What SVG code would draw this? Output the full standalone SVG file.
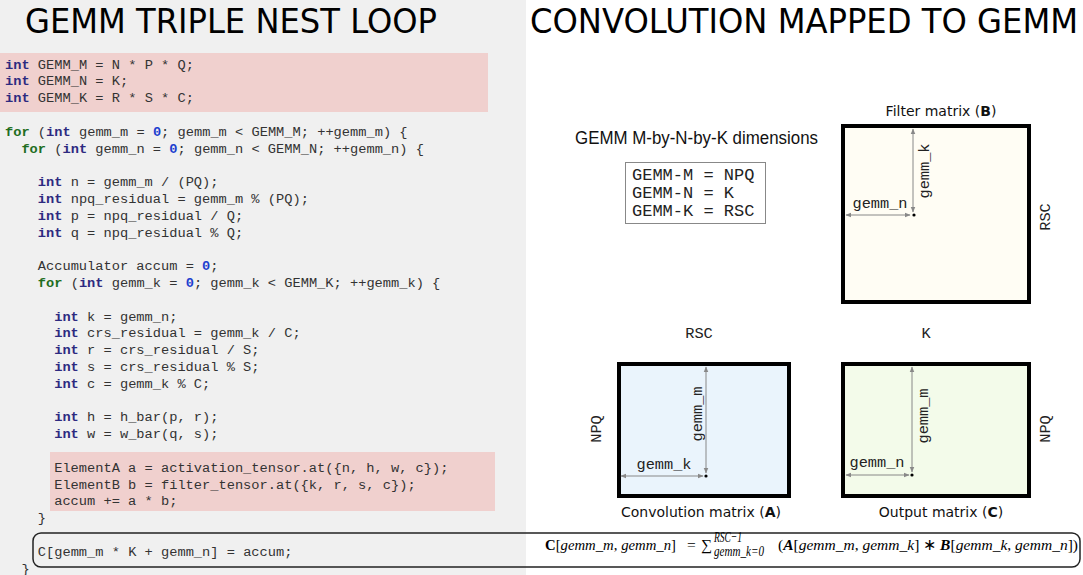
<svg xmlns="http://www.w3.org/2000/svg" width="1083" height="575" viewBox="0 0 1083 575">
<style>
.title{font-family:"DejaVu Sans",Verdana,sans-serif;font-size:34px;fill:#000}
.code{font-family:"Liberation Mono","Courier New",monospace;font-size:13.7px;fill:#333}
.k{fill:#2d2a80;font-weight:bold}
.f{fill:#1f6e1f;font-weight:bold}
.n{fill:#1d3fcf;font-weight:bold}
.hl{fill:#f0d0ce}
.dims{font-family:"Liberation Mono","Courier New",monospace;font-size:17px;fill:#222}
.lbl{font-family:"Liberation Mono","Courier New",monospace;font-size:15.3px;fill:#222}
.cap{font-family:"DejaVu Sans",Verdana,sans-serif;font-size:14px;fill:#111}
.mat{stroke:#000;stroke-width:4}
.arr{stroke:#888;stroke-width:1;fill:none;marker-start:url(#ah);marker-end:url(#ah)}
.math{font-family:"Liberation Serif","Times New Roman",serif;font-size:15.5px;fill:#000}
.it{font-style:italic}
</style>
<defs>
<marker id="ah" viewBox="0 0 10 10" refX="9" refY="5" markerWidth="6" markerHeight="6" orient="auto-start-reverse" markerUnits="userSpaceOnUse">
<path d="M0,1 L10,5 L0,9 z" fill="#888"/>
</marker>
</defs>
<rect x="0" y="0" width="1083" height="575" fill="#fff"/>
<rect x="0" y="0" width="526" height="575" fill="#f0f0f0"/>

<g id="title-left"><text class="title" x="25" y="33" textLength="412" lengthAdjust="spacingAndGlyphs">GEMM TRIPLE NEST LOOP</text></g>
<g id="title-right"><text class="title" x="530" y="33" textLength="548" lengthAdjust="spacingAndGlyphs">CONVOLUTION MAPPED TO GEMM</text></g>

<g id="code">
<rect class="hl" x="0" y="53" width="488" height="59"/>
<rect class="hl" x="50" y="452" width="445" height="59"/>
<text class="code" x="5" y="68.5"><tspan class="k">int</tspan> GEMM_M = N * P * Q;</text>
<text class="code" x="5" y="85.3"><tspan class="k">int</tspan> GEMM_N = K;</text>
<text class="code" x="5" y="102.1"><tspan class="k">int</tspan> GEMM_K = R * S * C;</text>
<text class="code" x="5" y="135.7"><tspan class="f">for</tspan> (<tspan class="k">int</tspan> gemm_m = <tspan class="n">0</tspan>; gemm_m &lt; GEMM_M; ++gemm_m) {</text>
<text class="code" x="21.4" y="152.5"><tspan class="f">for</tspan> (<tspan class="k">int</tspan> gemm_n = <tspan class="n">0</tspan>; gemm_n &lt; GEMM_N; ++gemm_n) {</text>
<text class="code" x="37.8" y="186.1"><tspan class="k">int</tspan> n = gemm_m / (PQ);</text>
<text class="code" x="37.8" y="202.9"><tspan class="k">int</tspan> npq_residual = gemm_m % (PQ);</text>
<text class="code" x="37.8" y="219.7"><tspan class="k">int</tspan> p = npq_residual / Q;</text>
<text class="code" x="37.8" y="236.5"><tspan class="k">int</tspan> q = npq_residual % Q;</text>
<text class="code" x="37.8" y="270.1">Accumulator accum = <tspan class="n">0</tspan>;</text>
<text class="code" x="37.8" y="286.9"><tspan class="f">for</tspan> (<tspan class="k">int</tspan> gemm_k = <tspan class="n">0</tspan>; gemm_k &lt; GEMM_K; ++gemm_k) {</text>
<text class="code" x="54.2" y="320.5"><tspan class="k">int</tspan> k = gemm_n;</text>
<text class="code" x="54.2" y="337.3"><tspan class="k">int</tspan> crs_residual = gemm_k / C;</text>
<text class="code" x="54.2" y="354.1"><tspan class="k">int</tspan> r = crs_residual / S;</text>
<text class="code" x="54.2" y="370.9"><tspan class="k">int</tspan> s = crs_residual % S;</text>
<text class="code" x="54.2" y="387.7"><tspan class="k">int</tspan> c = gemm_k % C;</text>
<text class="code" x="54.2" y="421.3"><tspan class="k">int</tspan> h = h_bar(p, r);</text>
<text class="code" x="54.2" y="438.1"><tspan class="k">int</tspan> w = w_bar(q, s);</text>
<text class="code" x="54.2" y="471.7">ElementA a = activation_tensor.at({n, h, w, c});</text>
<text class="code" x="54.2" y="488.5">ElementB b = filter_tensor.at({k, r, s, c});</text>
<text class="code" x="54.2" y="505.3">accum += a * b;</text>
<text class="code" x="37.8" y="522.1">}</text>
<text class="code" x="37.8" y="555.7">C[gemm_m * K + gemm_n] = accum;</text>
<text class="code" x="21.4" y="572.5">}</text>
</g>

<g id="formula-box">
<rect x="33" y="533" width="1047" height="34" rx="8" ry="8" fill="none" stroke="#222" stroke-width="1.5"/>
<text class="math" x="545" y="550" textLength="131" lengthAdjust="spacingAndGlyphs"><tspan font-weight="bold">C</tspan>[<tspan class="it">gemm_m</tspan>, <tspan class="it">gemm_n</tspan>]</text>
<text class="math" x="687" y="550">=</text>
<text class="math" x="701" y="550">∑</text>
<text class="math it" x="714" y="541.5" font-size="9.5" textLength="28" lengthAdjust="spacingAndGlyphs">RSC−1</text>
<text class="math it" x="714" y="556" font-size="9.5" textLength="50" lengthAdjust="spacingAndGlyphs">gemm_k=0</text>
<text class="math" x="778" y="550" textLength="300" lengthAdjust="spacing">(<tspan font-weight="bold" font-style="italic">A</tspan>[<tspan class="it">gemm_m</tspan>, <tspan class="it">gemm_k</tspan>] ∗ <tspan font-weight="bold" font-style="italic">B</tspan>[<tspan class="it">gemm_k</tspan>, <tspan class="it">gemm_n</tspan>])</text>
</g>

<g id="dims">
<text x="575" y="144" font-family="Liberation Sans,Arial,sans-serif" font-size="17.5" fill="#111" textLength="243" lengthAdjust="spacingAndGlyphs">GEMM M-by-N-by-K dimensions</text>
<rect x="625.5" y="162.5" width="140" height="61" fill="#fff" stroke="#888" stroke-width="1"/>
<text class="dims" x="632" y="180">GEMM-M = NPQ</text>
<text class="dims" x="632" y="198">GEMM-N = K</text>
<text class="dims" x="632" y="216">GEMM-K = RSC</text>
</g>

<g id="matrix-B">
<text class="cap" x="941" y="116" text-anchor="middle">Filter matrix (<tspan font-weight="bold">B</tspan>)</text>
<rect class="mat" x="843" y="126" width="186" height="176" fill="#fffdf4"/>
<text class="lbl" x="880" y="208" text-anchor="middle">gemm_n</text>
<text class="lbl" transform="translate(929,171) rotate(-90)" text-anchor="middle">gemm_k</text>
<circle cx="914" cy="215" r="1.6" fill="#000"/>
<text class="lbl" transform="translate(1050,217) rotate(-90)" text-anchor="middle">RSC</text>
</g>

<g id="matrix-A">
<text class="lbl" x="699" y="338" text-anchor="middle">RSC</text>
<text class="lbl" transform="translate(601,429) rotate(-90)" text-anchor="middle">NPQ</text>
<rect class="mat" x="619" y="364" width="170" height="132" fill="#eaf4fc"/>
<text class="lbl" transform="translate(702,414) rotate(-90)" text-anchor="middle">gemm_m</text>
<text class="lbl" x="664" y="469" text-anchor="middle">gemm_k</text>
<circle cx="706" cy="476" r="1.6" fill="#000"/>
<text class="cap" x="701" y="517" text-anchor="middle">Convolution matrix (<tspan font-weight="bold">A</tspan>)</text>
</g>

<g id="matrix-C">
<text class="lbl" x="926" y="338" text-anchor="middle">K</text>
<rect class="mat" x="843" y="364" width="186" height="132" fill="#f3fbea"/>
<text class="lbl" transform="translate(928,416) rotate(-90)" text-anchor="middle">gemm_m</text>
<text class="lbl" x="877" y="467" text-anchor="middle">gemm_n</text>
<circle cx="912" cy="475" r="1.6" fill="#000"/>
<text class="lbl" transform="translate(1050,429) rotate(-90)" text-anchor="middle">NPQ</text>
<text class="cap" x="941" y="517" text-anchor="middle">Output matrix (<tspan font-weight="bold">C</tspan>)</text>
</g>

<g id="connectors">
<line class="arr" x1="913" y1="129" x2="913" y2="212"/>
<line class="arr" x1="846" y1="215" x2="910" y2="215"/>
<line class="arr" x1="706" y1="367" x2="706" y2="473"/>
<line class="arr" x1="621" y1="476" x2="703" y2="476"/>
<line class="arr" x1="912" y1="367" x2="912" y2="472"/>
<line class="arr" x1="846" y1="475" x2="909" y2="475"/>
</g>
</svg>
